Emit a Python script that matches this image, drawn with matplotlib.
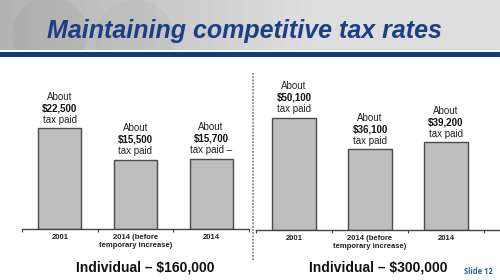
import matplotlib
matplotlib.use("Agg")
import matplotlib.pyplot as plt
import numpy as np
from matplotlib.lines import Line2D
from matplotlib.patches import Rectangle, Circle

# ---- data ----
categories = ["2001", "2014 (before\ntemporary increase)", "2014"]
tax_160k = [22500, 15500, 15700]
tax_300k = [50100, 36100, 39200]
labels_160k = ["$22,500", "$15,500", "$15,700"]
labels_300k = ["$50,100", "$36,100", "$39,200"]
tail_160k = ["tax paid", "tax paid", "tax paid \u2013"]
tail_300k = ["tax paid", "tax paid", "tax paid"]
caption_160k = "Individual \u2013 $160,000"
caption_300k = "Individual \u2013 $300,000"
title = "Maintaining competitive tax rates"

W, H = 500, 280
fig = plt.figure(figsize=(W / 100, H / 100), dpi=100)
fig.patch.set_facecolor("white")
plt.rcParams["font.family"] = ["Liberation Sans", "DejaVu Sans"]


def fx(px):
    return px / W


def fy(py):
    return (H - py) / H


# ---- header ----
hdr = fig.add_axes([0, fy(50), 1, 50 / H])
hdr.set_axis_off()
xg = np.linspace(0, 1, 300)
grad = 0.70 + 0.17 * np.clip(xg * 1.6, 0, 1)
img = np.tile(grad, (50, 1))
hdr.imshow(img, cmap="gray", vmin=0, vmax=1, aspect="auto",
           extent=[0, W, 50, 0])
hdr.add_patch(Circle((50, 35), 38, color="#8C8C8C", alpha=0.15, lw=0))
hdr.add_patch(Circle((135, 40), 40, color="#9A9A9A", alpha=0.12, lw=0))
hdr.set_xlim(0, W)
hdr.set_ylim(50, 0)

fig.add_artist(Rectangle((0, fy(56.5)), 1, 4.5 / H, transform=fig.transFigure,
                         color="#123C7E", lw=0))
fig.text(fx(47), fy(38), title, fontsize=18, fontweight="bold",
         fontstyle="italic", color="#1B3F86", ha="left", va="baseline")

# ---- panels ----
bar_color = "#BEBEBE"
edge_color = "#4A4A4A"


def panel(rect, values, labels, tails, ymax, xmax):
    ax = fig.add_axes(rect)
    x = np.arange(len(values))
    ax.bar(x, values, width=0.57, color=bar_color, edgecolor=edge_color,
           linewidth=1.0)
    ax.set_xlim(-0.5, xmax)
    ax.set_ylim(0, ymax)
    for s in ["top", "right", "left"]:
        ax.spines[s].set_visible(False)
    ax.spines["bottom"].set_color("#444444")
    ax.spines["bottom"].set_linewidth(1.0)
    ax.set_yticks([])
    ax.set_xticks([-0.5, 0.5, 1.5, 2.5])
    ax.set_xticklabels([])
    ax.tick_params(axis="x", which="major", direction="out", length=2.5,
                   width=0.8, color="#444444")
    ax.set_xticks(x, minor=True)
    ax.set_xticklabels(categories, minor=True, fontsize=5.5,
                       fontweight="bold", color="#222222", linespacing=1.3)
    ax.tick_params(axis="x", which="minor", length=0, pad=3.5)
    for xi, v, lab, tail in zip(x, values, labels, tails):
        ax.annotate(tail, (xi, v), xytext=(0, 8.5), textcoords="offset pixels",
                    ha="center", va="center", fontsize=7, color="#222222")
        ax.annotate(lab, (xi, v), xytext=(0, 20), textcoords="offset pixels",
                    ha="center", va="center", fontsize=7, fontweight="bold",
                    color="#111111")
        ax.annotate("About", (xi, v), xytext=(0, 31.5),
                    textcoords="offset pixels", ha="center", va="center",
                    fontsize=7, color="#222222")
    return ax


top_px = 75
panel([fx(22), fy(229), fx(249 - 22), (229 - top_px) / H],
      tax_160k, labels_160k, tail_160k, (229 - top_px) / 4.47 * 1000, 2.5)
panel([fx(256), fy(230), fx(W - 256), (230 - top_px) / H],
      tax_300k, labels_300k, tail_300k, (230 - top_px) / 2.24 * 1000,
      2.5 + 16 / 76)

# separator
fig.add_artist(Line2D([fx(253), fx(253)], [fy(73), fy(260)],
                      transform=fig.transFigure, color="#888888",
                      linestyle=(0, (1, 0.8)), linewidth=1.3))

# captions
fig.text(fx(145), fy(268), caption_160k, fontsize=10, fontweight="bold",
         color="#111111", ha="center", va="center")
fig.text(fx(378), fy(268), caption_300k, fontsize=10, fontweight="bold",
         color="#111111", ha="center", va="center")
fig.text(fx(478), fy(272), "Slide 12", fontsize=5.5, fontweight="bold",
         color="#2E5FA8", ha="center", va="center",
         family=["Open Sans", "DejaVu Sans"])

fig.savefig("out.png", dpi=100, facecolor="white")
